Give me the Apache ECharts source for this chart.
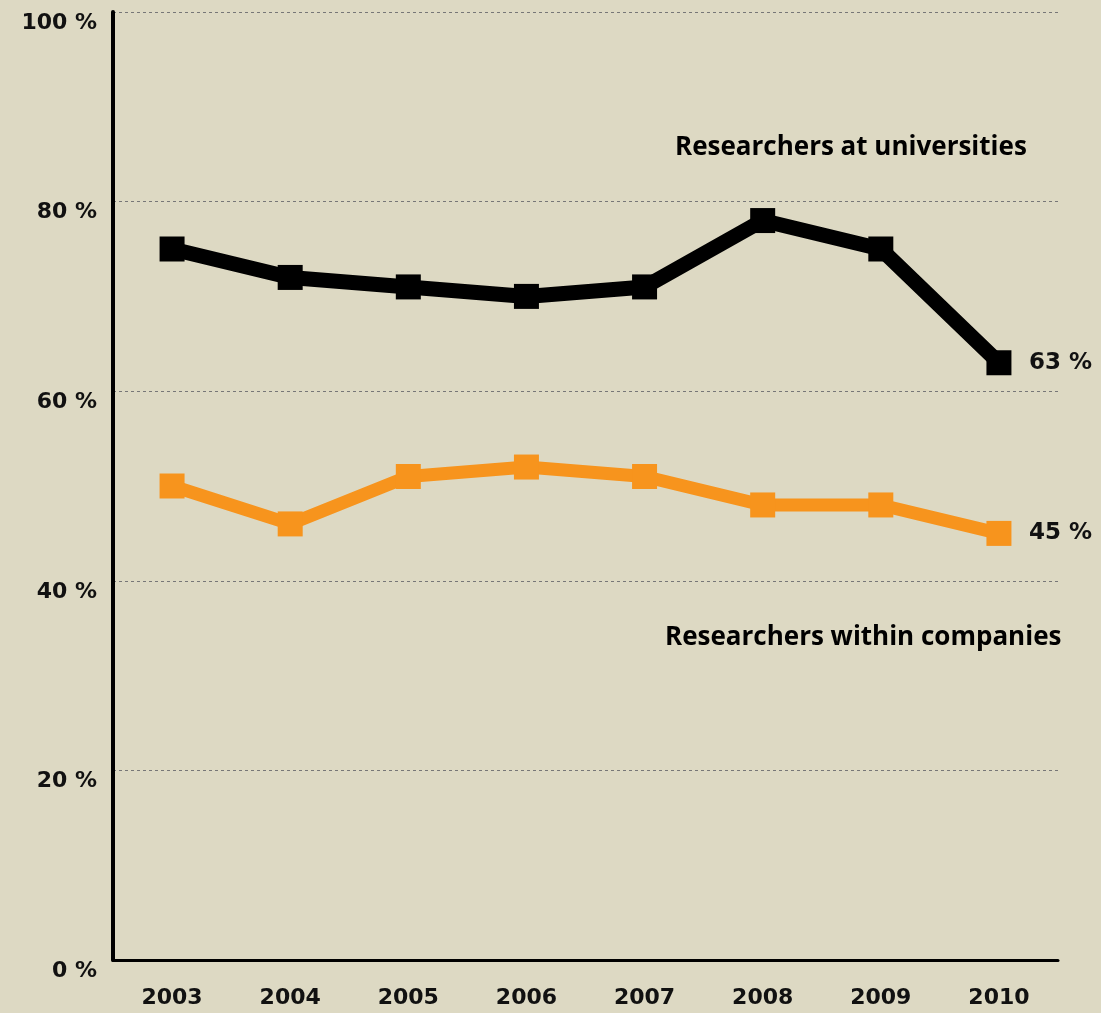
<!DOCTYPE html>
<html><head><meta charset="utf-8">
<script src="https://cdn.jsdelivr.net/npm/echarts@6/dist/echarts.min.js"></script>
<style>html,body{margin:0;padding:0;background:#DDD9C3;}#c{width:1101px;height:1013px;}</style>
</head><body><div id="c"></div>
<script>
const years = ['2003','2004','2005','2006','2007','2008','2009','2010'];
const universities = [75, 72, 71, 70, 71, 78, 75, 63];
const companies = [50, 46, 51, 52, 51, 48, 48, 45];
const yTicks = [0, 20, 40, 60, 80, 100];

const chart = echarts.init(document.getElementById('c'));
const labelFont = { fontFamily: 'DejaVu Sans', fontWeight: 'bold', fontSize: 22, color: '#111' };
chart.setOption({
  backgroundColor: '#DDD9C3',
  animation: false,
  grid: { left: 113, right: 43, top: 12, bottom: 53 },
  xAxis: {
    type: 'category', data: years, boundaryGap: true,
    axisLine: { show: true, lineStyle: { color: '#000', width: 3 } },
    axisTick: { show: false },
    axisLabel: Object.assign({ margin: 27 }, labelFont),
    splitLine: { show: false }
  },
  yAxis: {
    type: 'value', min: 0, max: 100, interval: 20,
    axisLine: { show: true, lineStyle: { color: '#000', width: 4 } },
    axisTick: { show: false },
    axisLabel: Object.assign({ margin: 16, verticalAlign: 'top', formatter: v => yTicks.includes(v) ? v + ' %' : '' }, labelFont),
    splitLine: { show: true, lineStyle: { color: '#777', width: 1, type: [3, 3] } }
  },
  series: [
    {
      name: 'Researchers at universities', type: 'line', data: universities,
      symbol: 'rect', symbolSize: 25,
      lineStyle: { color: '#000', width: 15 }, itemStyle: { color: '#000' },
      endLabel: { show: true, formatter: p => p.value + ' %', distance: 30, fontFamily: 'DejaVu Sans', fontWeight: 'bold', fontSize: 23, color: '#111' }
    },
    {
      name: 'Researchers within companies', type: 'line', data: companies,
      symbol: 'rect', symbolSize: 25,
      lineStyle: { color: '#F7941D', width: 13 }, itemStyle: { color: '#F7941D' },
      endLabel: { show: true, formatter: p => p.value + ' %', distance: 30, fontFamily: 'DejaVu Sans', fontWeight: 'bold', fontSize: 23, color: '#111' }
    }
  ],
  graphic: [
    { type: 'text', x: 675, y: 148, style: { text: 'Researchers at universities', font: 'bold 26px "Open Sans"', fill: '#000', verticalAlign: 'middle' } },
    { type: 'text', x: 665, y: 638, style: { text: 'Researchers within companies', font: 'bold 26px "Open Sans"', fill: '#000', verticalAlign: 'middle' } }
  ]
});
</script></body></html>
